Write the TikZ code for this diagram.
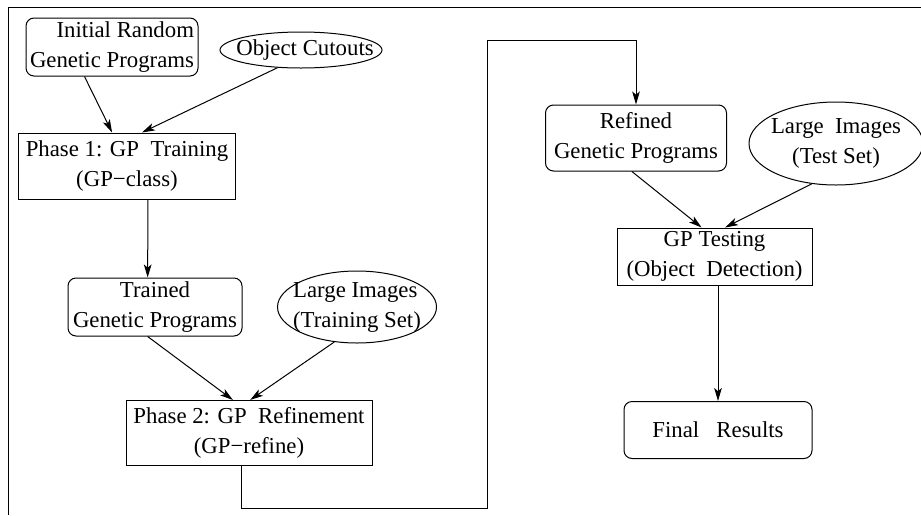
\documentclass[tikz,border=0pt]{standalone}
\usepackage{fontspec}
\setmainfont{Liberation Serif}
\usetikzlibrary{positioning,arrows,arrows.meta,calc,shapes.geometric}
\tikzset{
    txt/.style = {
        align=center,
        inner sep=0pt,
        font=\fontsize{11.4}{15}\selectfont
    },
    block/.style = {
        draw,
        shape=rectangle,
        inner sep=1pt,
        line width=0.5pt,
        txt
    },
    program/.style = {
        block,
        rounded corners=4pt
    },
    data/.style = {
        draw,
        shape=ellipse,
        inner sep=0pt,
        line width=0.5pt
    },
    >={Stealth[length=6.5pt,width=3.8pt,inset=1.6pt]},
}

\begin{document}
\begin{tikzpicture}[x=0.5pt, y=-0.5pt, line width=0.5pt]
        \useasboundingbox (0,0) rectangle (921,515);
        \draw (8,515) -- (8,7) -- (921,7);

        \node[program, minimum width=86pt, minimum height=29pt, align=right] (initial) at (112,47) {Initial Random\\Genetic Programs};
        \node[data, minimum width=81pt, minimum height=18pt, label={[txt, xshift=2pt]center:Object Cutouts}] (cutouts) at (301,50) {};
        \node[block, minimum width=108.5pt, minimum height=33pt] (phase1) at (127,166) {Phase 1: GP~~Training\\(GP−class)};

        \node[program, minimum width=87pt, minimum height=29pt] (trained) at (155,307) {Trained\\Genetic Programs};
        \node[data, minimum width=79.5pt, minimum height=36pt, label={[txt, align=left]center:Large Images\\(Training Set)}] (trainset) at (357,307) {};
        \node[block, minimum width=123pt, minimum height=32.5pt] (phase2) at (249,433) {Phase 2: GP~~Refinement\\(GP−refine)};

        \node[program, minimum width=90.5pt, minimum height=33pt] (refined) at (636,138) {Refined\\Genetic Programs};
        \node[data, minimum width=87pt, minimum height=41.5pt, label={[txt]center:Large~~Images\\(Test Set)}] (testset) at (836,143.5) {};
        \node[block, minimum width=97.5pt, minimum height=28.5pt] (gptest) at (714.5,256.5) {GP Testing\\(Object~~Detection)};
        \node[program, minimum width=94pt, minimum height=28.5pt] (final) at (718,430) {Final~~~Results};

        \coordinate (loopa) at (487,508);
        \coordinate (loopb) at (487,40);

        \path[draw, ->] (initial.227) -- (phase1.114);
        \path[draw, ->] (cutouts.217) -- (phase1.66);
        \path[draw, ->] (phase1.302) -- (trained.104);

        \path[draw, ->] (trained.256) -- (phase2.116);
        \path[draw, ->] (trainset.237) -- (phase2.88);
        \path[draw, ->] (phase2.258) |- (loopa) -- (loopb) -| (refined.north);

        \path[draw, ->] (refined.263) -- (gptest.114);
        \path[draw, ->] (testset.239) -- (gptest.70);
        \path[draw, ->] (gptest.south -| final.north) -- (final.north);
    \end{tikzpicture}
\end{document}
